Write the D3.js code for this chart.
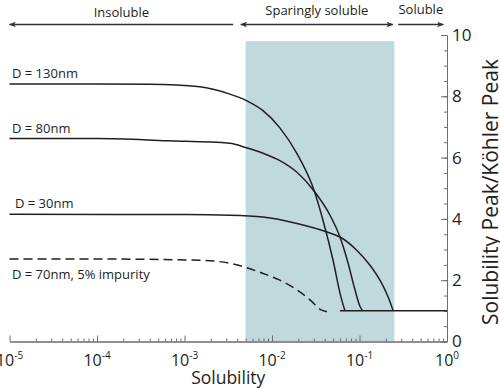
<!DOCTYPE html>
<html>
<head>
<meta charset="utf-8">
<script src="https://cdn.jsdelivr.net/npm/d3@7"></script>
<style>
  body{margin:0;background:#fff;}
  svg{display:block;font-family:"Open Sans",sans-serif;}
  .axis path,.axis line{stroke:#6d6d6d;stroke-width:1;}
  .curve{fill:none;stroke:#231f20;stroke-width:1.5;}
  .lbl{fill:#231f20;font-size:13px;}
</style>
</head>
<body>
<script>
// solubility (x) vs Solubility Peak / Kohler Peak (y)
var decades = [1e-5,1e-4,1e-3,1e-2,1e-1,1];
var decadeExp = ['-5','-4','-3','-2','-1','0'];
var yTicks = [0,2,4,6,8,10];

var curve130 = [[1e-5,8.4],[1e-4,8.4],[4e-4,8.39],[1.5e-3,8.31],[3.3e-3,8.07],[5.1e-3,7.86],
  [7.9e-3,7.53],[0.0123,6.97],[0.0193,6.13],[0.0294,5.03],[0.0383,3.95],[0.0498,2.66],
  [0.0598,1.58],[0.0682,1.0]];
var curve80 = [[1e-5,6.62],[1e-4,6.62],[6.3e-4,6.55],[3.3e-3,6.47],[5.1e-3,6.32],[7.9e-3,6.14],
  [0.0123,5.9],[0.0193,5.52],[0.031,4.87],[0.046,4.12],[0.0598,3.41],[0.074,2.56],
  [0.0889,1.68],[0.1014,1.14],[0.109,1.0]];
var curve30 = [[1e-5,4.15],[1e-3,4.14],[3.3e-3,4.12],[7.9e-3,4.06],[0.0193,3.85],[0.0426,3.57],
  [0.0598,3.41],[0.0929,2.98],[0.1318,2.49],[0.1714,2.0],[0.212,1.46],[0.243,1.0]];
var curve70imp = [[1e-5,2.69],[1e-4,2.69],[1.5e-3,2.65],[3.6e-3,2.53],[7.9e-3,2.22],[0.0123,2.0],
  [0.0193,1.68],[0.0272,1.36],[0.0354,1.05],[0.0425,0.97]];
var floorLine = [[0.06,1],[1,1]];

var curveLabels = ['D = 130nm','D = 80nm','D = 30nm','D = 70nm, 5% impurity'];
var labelVals = [8.6,6.8,4.35,2.05];

var band = [0.005,0.25,9.8];
var regionNames = ['Insoluble','Sparingly soluble','Soluble'];
var regionFrom = [1e-5,0.0044,0.277];
var regionTo = [0.0036,0.24,0.91];

var W = 500, H = 389;

var svg = d3.select('body').append('svg')
    .attr('width',W)
    .attr('height',H);

//set scale
var scaleX = d3.scaleLog()
    .domain([1e-5,1])
    .range([9.5,447]);
var scaleY = d3.scaleLinear()
    .domain([0,10])
    .range([341.5,35]);

//band
svg.append('rect')
    .attr('x',scaleX(band[0]))
    .attr('y',scaleY(band[2]))
    .attr('width',scaleX(band[1])-scaleX(band[0]))
    .attr('height',scaleY(0)-scaleY(band[2]))
    .style('fill','#bfd9dd');

//minor ticks
var minorX = [];
decades.slice(0,-1).forEach(function(d){
    for(var k=2;k<10;k++) minorX.push(d*k);
});
var minorY = d3.range(0,10.01,0.5);

svg.append('g').attr('class','axis')
    .attr('transform','translate(0,'+scaleY(0)+')')
    .call(d3.axisBottom(scaleX).tickValues(minorX).tickSize(-3).tickSizeOuter(0).tickFormat(''));
svg.append('g').attr('class','axis')
    .attr('transform','translate(0,'+scaleY(0)+')')
    .call(d3.axisBottom(scaleX).tickValues(decades).tickSize(-6).tickSizeOuter(0).tickFormat(''));

svg.append('g').attr('class','axis')
    .attr('transform','translate('+scaleX(1)+',0)')
    .call(d3.axisRight(scaleY).tickValues(minorY).tickSize(-3).tickSizeOuter(0).tickFormat(''));
var yAxis = svg.append('g').attr('class','axis')
    .attr('transform','translate('+scaleX(1)+',0)')
    .call(d3.axisRight(scaleY).tickValues(yTicks).tickSize(-6).tickSizeOuter(0).tickPadding(5));
yAxis.selectAll('text')
    .style('font-family','"Open Sans",sans-serif')
    .style('font-size','17px')
    .style('fill','#231f20');

//x tick labels with superscript
var xl = svg.append('g').selectAll('text')
    .data(decades)
    .enter()
    .append('text')
    .attr('x',function(d){return scaleX(d)})
    .attr('y',366)
    .attr('text-anchor','middle')
    .style('font-size','16px')
    .style('fill','#231f20');
xl.append('tspan').text('10');
xl.append('tspan')
    .attr('dy',-7)
    .style('font-size','10px')
    .text(function(d,i){return decadeExp[i]});

//axis titles
svg.append('text')
    .attr('x',(scaleX(1e-5)+scaleX(1))/2)
    .attr('y',384)
    .attr('text-anchor','middle')
    .style('font-size','17.5px')
    .style('fill','#231f20')
    .text('Solubility');

svg.append('text')
    .attr('transform','translate(498,192) rotate(-90)')
    .attr('text-anchor','middle')
    .style('font-size','21px')
    .style('fill','#231f20')
    .text('Solubility Peak/Köhler Peak');

//curves
var line = d3.line()
    .x(function(d){return scaleX(d[0])})
    .y(function(d){return scaleY(d[1])})
    .curve(d3.curveMonotoneX);

[curve130,curve80,curve30].forEach(function(c){
    svg.append('path').attr('class','curve').datum(c).attr('d',line);
});
svg.append('path').attr('class','curve')
    .datum(curve70imp)
    .attr('d',line)
    .style('stroke-dasharray','9,5');
svg.append('path').attr('class','curve')
    .datum(floorLine)
    .attr('d',line);

//curve labels
var labelX = [12,12,15,12];
svg.selectAll('.clbl')
    .data(curveLabels)
    .enter()
    .append('text')
    .attr('class','lbl clbl')
    .attr('x',function(d,i){return labelX[i]})
    .attr('y',function(d,i){return scaleY(labelVals[i])})
    .text(function(d){return d});

//region arrows
var defs = svg.append('defs');
defs.append('marker')
    .attr('id','ah')
    .attr('viewBox','0 0 10 8')
    .attr('refX',9).attr('refY',4)
    .attr('markerWidth',7).attr('markerHeight',6)
    .attr('markerUnits','userSpaceOnUse')
    .attr('orient','auto-start-reverse')
    .append('path')
    .attr('d','M0,0 L10,4 L0,8 L2.5,4 Z')
    .style('fill','#333');

var arrowY = 24.5;
var starts = [true,true,false], ends = [false,true,true];
regionNames.forEach(function(n,i){
    var a = svg.append('line')
        .attr('x1',scaleX(regionFrom[i]))
        .attr('x2',scaleX(regionTo[i]))
        .attr('y1',arrowY).attr('y2',arrowY)
        .style('stroke','#333')
        .style('stroke-width',1.5);
    if(starts[i]) a.attr('marker-start','url(#ah)');
    if(ends[i]) a.attr('marker-end','url(#ah)');
});
var regionBase = [16.5,15,13.5];
svg.selectAll('.rlbl')
    .data(regionNames)
    .enter()
    .append('text')
    .attr('class','rlbl')
    .attr('x',function(d,i){return (scaleX(regionFrom[i])+scaleX(regionTo[i]))/2})
    .attr('y',function(d,i){return regionBase[i]})
    .attr('text-anchor','middle')
    .style('font-size','13px')
    .style('fill','#231f20')
    .text(function(d){return d});
</script>
</body>
</html>
